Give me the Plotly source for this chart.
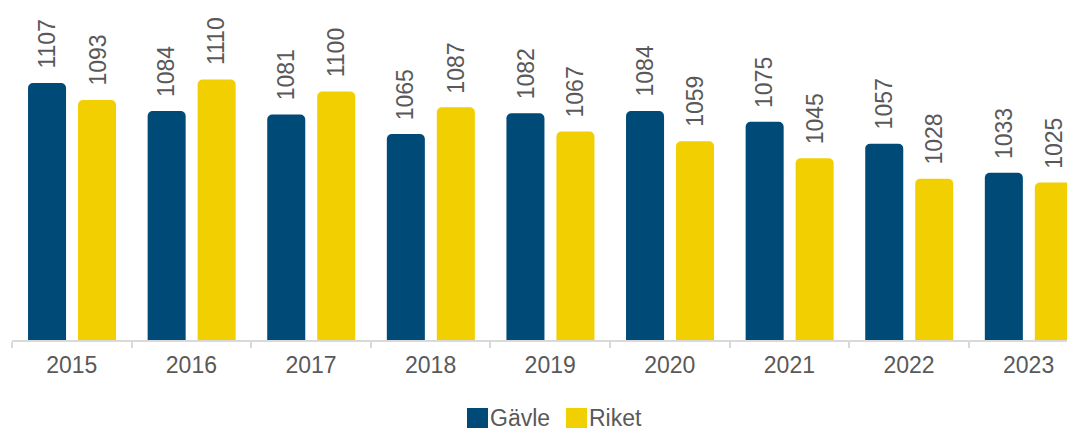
import plotly.graph_objects as go

years = ["2015", "2016", "2017", "2018", "2019", "2020", "2021", "2022", "2023"]
gavle = [1107, 1084, 1081, 1065, 1082, 1084, 1075, 1057, 1033]
riket = [1093, 1110, 1100, 1087, 1067, 1059, 1045, 1028, 1025]
series_names = ["Gävle", "Riket"]
colors = ["#004A78", "#F2CF00"]

FONT = "Arial, Liberation Sans, sans-serif"
TXT = "#595959"
FS = 23

# page has an 8px body margin; figure coordinates below are page coords - 8
W, H = 1067, 426
L = 4
CAT_PX = 119.6
R_EDGE = L + CAT_PX * len(years)   # plot area extends past the window (cropped)
BASE_Y = 332                 # baseline in fig px
PX_PER_UNIT = 1.212
YMIN = 895
BAR_W = 0.318
OFFS = [-0.366, 0.052]

fig = go.Figure()
for name, vals, col, off in zip(series_names, [gavle, riket], colors, OFFS):
    fig.add_trace(go.Bar(
        x=years, y=vals, name=name, marker_color=col, marker_line_width=0,
        width=BAR_W, offset=off, showlegend=False,
    ))
    for i, v in enumerate(vals):
        fig.add_annotation(x=i + off + BAR_W / 2, y=v, text=str(v), textangle=-90,
                           xanchor="center", yanchor="bottom", yshift=12, showarrow=False,
                           font=dict(family=FONT, size=FS, color=TXT))

x_hi = len(years) - 0.5 - (R_EDGE - W) / CAT_PX
ymax = YMIN + BASE_Y / PX_PER_UNIT

fig.update_layout(
    width=W, height=H,
    margin=dict(l=L, r=0, t=0, b=H - BASE_Y),
    plot_bgcolor="white", paper_bgcolor="white",
    barcornerradius=5,
    xaxis=dict(range=[-0.5, x_hi], showgrid=False, showline=True, linecolor="#D9D9D9", linewidth=2,
               ticks="outside", tickson="boundaries", ticklen=6, tickcolor="#D9D9D9", tickwidth=2,
               ticklabelstandoff=3,
               tickfont=dict(family=FONT, size=FS, color=TXT)),
    yaxis=dict(range=[YMIN, ymax], visible=False, showgrid=False),
    font=dict(family=FONT, color=TXT),
)

def px(xf):
    return (xf - L) / (W - L)

def py(yf):
    return (BASE_Y - yf) / BASE_Y

# legend (manual, centered under plot area)
leg_items = [(series_names[0], colors[0], 459), (series_names[1], colors[1], 558)]
for name, col, x0 in leg_items:
    fig.add_shape(type="rect", xref="paper", yref="paper",
                  x0=px(x0), x1=px(x0 + 21), y0=py(420), y1=py(400),
                  fillcolor=col, line_width=0, layer="above")
    fig.add_annotation(text=name, xref="paper", yref="paper",
                       x=px(x0 + 22), y=py(410), xanchor="left", yanchor="middle",
                       showarrow=False, borderpad=0,
                       font=dict(family=FONT, size=FS, color=TXT))

fig.write_html("out.html")
